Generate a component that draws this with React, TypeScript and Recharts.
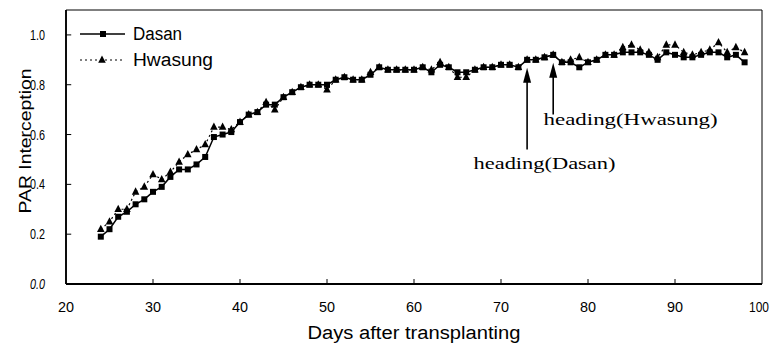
import React from 'react';
import {
  LineChart,
  Line,
  XAxis,
  YAxis,
  ReferenceArea,
  ReferenceLine,
  ReferenceDot,
  Legend,
} from 'recharts';

const days = [
  24, 25, 26, 27, 28, 29, 30, 31, 32, 33, 34, 35, 36, 37, 38, 39, 40, 41, 42, 43,
  44, 45, 46, 47, 48, 49, 50, 51, 52, 53, 54, 55, 56, 57, 58, 59, 60, 61, 62, 63,
  64, 65, 66, 67, 68, 69, 70, 71, 72, 73, 74, 75, 76, 77, 78, 79, 80, 81, 82, 83,
  84, 85, 86, 87, 88, 89, 90, 91, 92, 93, 94, 95, 96, 97, 98,
];

const dasan = [
  0.19, 0.22, 0.27, 0.29, 0.32, 0.34, 0.37, 0.39, 0.43, 0.46, 0.46, 0.48, 0.51, 0.59, 0.6, 0.61, 0.65, 0.68, 0.69, 0.72,
  0.72, 0.75, 0.77, 0.79, 0.8, 0.8, 0.8, 0.82, 0.83, 0.82, 0.82, 0.84, 0.87, 0.86, 0.86, 0.86, 0.86, 0.87, 0.85, 0.88,
  0.87, 0.85, 0.85, 0.86, 0.87, 0.87, 0.88, 0.88, 0.87, 0.9, 0.9, 0.91, 0.92, 0.89, 0.89, 0.87, 0.89, 0.9, 0.92, 0.92,
  0.93, 0.93, 0.93, 0.92, 0.9, 0.93, 0.92, 0.91, 0.91, 0.92, 0.93, 0.93, 0.91, 0.92, 0.89,
];

const hwasung = [
  0.22, 0.25, 0.3, 0.3, 0.37, 0.39, 0.44, 0.42, 0.45, 0.49, 0.52, 0.54, 0.56, 0.63, 0.63, 0.62, 0.65, 0.68, 0.69, 0.73,
  0.7, 0.75, 0.77, 0.79, 0.8, 0.8, 0.78, 0.82, 0.83, 0.82, 0.82, 0.85, 0.87, 0.86, 0.86, 0.86, 0.86, 0.87, 0.86, 0.89,
  0.87, 0.83, 0.83, 0.86, 0.87, 0.87, 0.88, 0.88, 0.87, 0.9, 0.9, 0.91, 0.92, 0.89, 0.9, 0.91, 0.89, 0.9, 0.92, 0.92,
  0.95, 0.96, 0.94, 0.93, 0.91, 0.96, 0.96, 0.93, 0.92, 0.93, 0.94, 0.97, 0.93, 0.95, 0.93,
];

const xTicks = [20, 30, 40, 50, 60, 70, 80, 90, 100];
const yTicks = [0, 0.2, 0.4, 0.6, 0.8, 1.0];
const seriesNames = ['Dasan', 'Hwasung'];
const headingDasan = { day: 73, tail: 0.54, tip: 0.868, label: 'heading(Dasan)', labelDay: 75, labelY: 0.463 };
const headingHwasung = { day: 76, tail: 0.68, tip: 0.888, label: 'heading(Hwasung)', labelDay: 84.9, labelY: 0.639 };

const data = days.map((d, i) => ({ day: d, dasan: dasan[i], hwasung: hwasung[i] }));

const SANS = "'Liberation Sans', Arial, sans-serif";
const SERIF = "'Liberation Serif', 'DejaVu Serif', serif";

const SquareDot = (props: any) => {
  const { cx, cy, index } = props;
  if (cx == null || cy == null) return <g key={`sq-${index}`} />;
  return <rect key={`sq-${index}`} x={cx - 3} y={cy - 3} width={6} height={6} fill="#000" />;
};

const TriDot = (props: any) => {
  const { cx, cy, index } = props;
  if (cx == null || cy == null) return <g key={`tr-${index}`} />;
  return (
    <polygon
      key={`tr-${index}`}
      points={`${cx},${cy - 4.5} ${cx - 3.8},${cy + 2.8} ${cx + 3.8},${cy + 2.8}`}
      fill="#000"
    />
  );
};

const XTick = (props: any) => {
  const { x, y, payload } = props;
  const s = String(payload.value);
  const wide = s.length === 3;
  return (
    <text
      x={wide ? x - 2 : x}
      y={y}
      dy={10}
      textAnchor="middle"
      fontSize={15}
      fontFamily={SANS}
      fill="#000"
      textLength={wide ? 20 : 16}
      lengthAdjust="spacingAndGlyphs"
    >
      {s}
    </text>
  );
};

const YTick = (props: any) => {
  const { x, y, payload } = props;
  return (
    <text
      x={x}
      y={y}
      dy={5}
      textAnchor="end"
      fontSize={15}
      fontFamily={SANS}
      fontStyle={payload.value === 0 ? 'italic' : 'normal'}
      fill="#000"
      textLength={15}
      lengthAdjust="spacingAndGlyphs"
    >
      {Number(payload.value).toFixed(1)}
    </text>
  );
};

const ArrowHead = (props: any) => {
  const { cx, cy } = props;
  if (cx == null || cy == null) return <g />;
  return <polygon points={`${cx},${cy} ${cx - 4},${cy + 15} ${cx + 4},${cy + 15}`} fill="#000" />;
};

const makeLabelShape = (text: string, len: number) => (props: any) => {
  const { cx, cy } = props;
  if (cx == null || cy == null) return <g />;
  return (
    <text
      x={cx}
      y={cy}
      textAnchor="middle"
      fontSize={17}
      fontFamily={SERIF}
      fill="#000"
      textLength={len}
      lengthAdjust="spacingAndGlyphs"
    >
      {text}
    </text>
  );
};

const renderLegend = () => (
  <svg width={200} height={56} style={{ display: 'block' }}>
    <line x1={5} y1={14} x2={50} y2={14} stroke="#000" strokeWidth={1.5} />
    <rect x={25} y={11} width={6} height={6} fill="#000" />
    <text
      x={58}
      y={20}
      fontSize={18}
      fontFamily={SANS}
      fill="#000"
      textLength={49}
      lengthAdjust="spacingAndGlyphs"
    >
      {seriesNames[0]}
    </text>
    <line x1={5} y1={40} x2={50} y2={40} stroke="#000" strokeWidth={1.2} strokeDasharray="2 3" />
    <polygon points="27,35.5 23.2,42.8 30.8,42.8" fill="#000" />
    <text
      x={58}
      y={46}
      fontSize={18}
      fontFamily={SANS}
      fill="#000"
      textLength={80}
      lengthAdjust="spacingAndGlyphs"
    >
      {seriesNames[1]}
    </text>
  </svg>
);

export default function App() {
  return (
    <div style={{ position: 'absolute', left: 0, top: 0, width: 773, height: 345, background: '#fff' }}>
      <LineChart width={773} height={345} data={data} margin={{ top: 10, right: 11, left: 0, bottom: 0 }}>
        <ReferenceArea x1={20} x2={100} y1={0} y2={1.1} fill="none" stroke="#000" strokeWidth={1} ifOverflow="visible" />
        <XAxis
          dataKey="day"
          type="number"
          domain={[20, 100]}
          ticks={xTicks}
          height={61}
          tickSize={0}
          tickMargin={18}
          tick={<XTick />}
          axisLine={{ stroke: '#000', strokeWidth: 1.8 }}
          tickLine={false}
          label={{
            content: () => (
              <text
                x={414}
                y={339}
                textAnchor="middle"
                fontSize={18}
                fontFamily={SANS}
                fill="#000"
                textLength={213}
                lengthAdjust="spacingAndGlyphs"
              >
                Days after transplanting
              </text>
            ),
          }}
        />
        <YAxis
          type="number"
          domain={[0, 1.1]}
          ticks={yTicks}
          width={66}
          tickSize={0}
          tickMargin={21}
          tick={<YTick />}
          axisLine={{ stroke: '#000', strokeWidth: 1.8 }}
          tickLine={false}
          label={{
            content: () => (
              <text
                x={31}
                y={141}
                transform="rotate(-90 31 141)"
                textAnchor="middle"
                fontSize={16}
                fontFamily={SANS}
                fill="#000"
                textLength={145}
                lengthAdjust="spacingAndGlyphs"
              >
                PAR Interception
              </text>
            ),
          }}
        />
        {xTicks.slice(1, -1).map((t) => (
          <ReferenceLine
            key={`xt-${t}`}
            segment={[
              { x: t, y: 0 },
              { x: t, y: 0.02 },
            ]}
            stroke="#000"
            strokeWidth={1}
          />
        ))}
        {yTicks.slice(1).map((t) => (
          <ReferenceLine
            key={`yt-${t}`}
            segment={[
              { x: 20, y: t },
              { x: 20.6, y: t },
            ]}
            stroke="#000"
            strokeWidth={1}
          />
        ))}
        <Legend
          layout="vertical"
          align="center"
          verticalAlign="middle"
          content={renderLegend}
          wrapperStyle={{ left: 75, top: 20, width: 200, height: 56 }}
        />
        <Line
          dataKey="hwasung"
          name={seriesNames[1]}
          stroke="#000"
          strokeWidth={1.2}
          strokeDasharray="2 3"
          dot={TriDot}
          activeDot={false}
          isAnimationActive={false}
        />
        <Line
          dataKey="dasan"
          name={seriesNames[0]}
          stroke="#000"
          strokeWidth={1.5}
          dot={SquareDot}
          activeDot={false}
          isAnimationActive={false}
        />
        <ReferenceLine
          segment={[
            { x: headingDasan.day, y: headingDasan.tail },
            { x: headingDasan.day, y: headingDasan.tip - 0.04 },
          ]}
          stroke="#000"
          strokeWidth={1.6}
        />
        <ReferenceDot x={headingDasan.day} y={headingDasan.tip} shape={ArrowHead} />
        <ReferenceLine
          segment={[
            { x: headingHwasung.day, y: headingHwasung.tail },
            { x: headingHwasung.day, y: headingHwasung.tip - 0.04 },
          ]}
          stroke="#000"
          strokeWidth={1.6}
        />
        <ReferenceDot x={headingHwasung.day} y={headingHwasung.tip} shape={ArrowHead} />
        <ReferenceDot
          x={headingDasan.labelDay}
          y={headingDasan.labelY}
          shape={makeLabelShape(headingDasan.label, 142)}
        />
        <ReferenceDot
          x={headingHwasung.labelDay}
          y={headingHwasung.labelY}
          shape={makeLabelShape(headingHwasung.label, 174)}
        />
      </LineChart>
    </div>
  );
}
